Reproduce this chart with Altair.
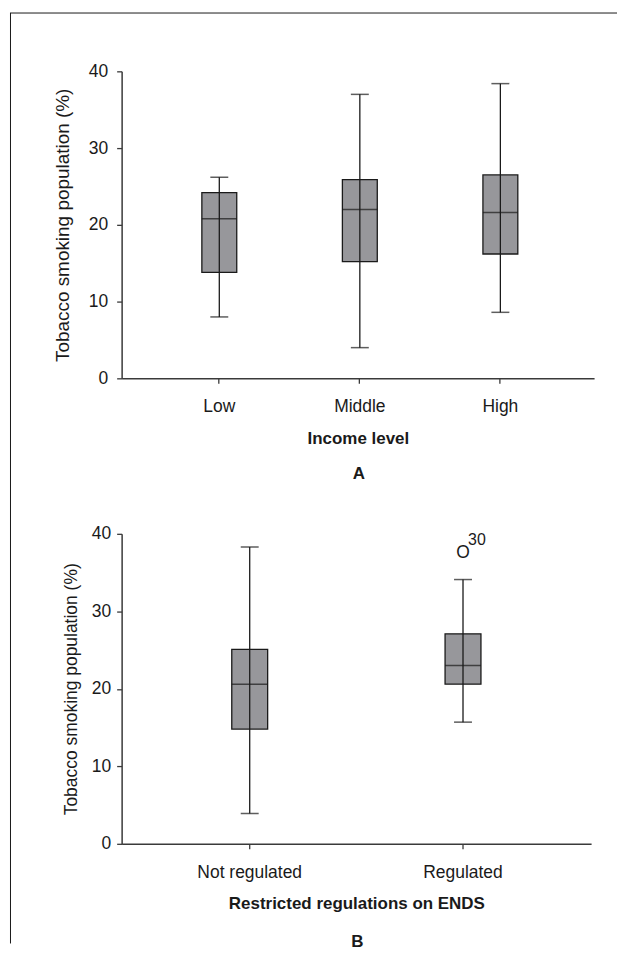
import altair as alt
import pandas as pd

# ---------------- data ----------------
cats_a = ["Low", "Middle", "High"]
lo_a = [8.0, 4.0, 8.6]
q1_a = [13.8, 15.2, 16.2]
med_a = [20.8, 22.0, 21.6]
q3_a = [24.2, 25.9, 26.5]
hi_a = [26.2, 37.0, 38.4]

cats_b = ["Not regulated", "Regulated"]
lo_b = [3.9, 15.7]
q1_b = [14.8, 20.6]
med_b = [20.6, 23.0]
q3_b = [25.1, 27.1]
hi_b = [38.3, 34.1]

out_cat = ["Regulated"]
out_val = [37.5]
out_lab = ["30"]

y_ticks = [0, 10, 20, 30, 40]

FONT = "Liberation Sans"
INK = "#1a1a1a"
AXC = "#3a3a3a"
GRAY = "#97979b"


def panel(cats, lo, q1, med, q3, hi, width, height, box_w, po, align,
          lab_fs, ylab_pad, ytitle_fs, ytitle_pad, xtitle, letter, letter_y,
          frame=None, out=None):
    df = pd.DataFrame({"cat": cats, "lo": lo, "q1": q1, "med": med, "q3": q3, "hi": hi})
    xs = alt.Scale(domain=cats, paddingInner=0, paddingOuter=po, align=align)
    xa = alt.Axis(labelAngle=0, labelFont=FONT, labelFontSize=lab_fs, labelColor=INK,
                  labelPadding=14.5, tickSize=5, tickColor=AXC, tickWidth=1.3,
                  domainColor=AXC, domainWidth=1.5, title=xtitle, titleFont=FONT,
                  titleFontSize=17, titleFontWeight="bold", titleColor=INK,
                  titlePadding=15, grid=False)
    ys = alt.Scale(domain=[0, 40])
    ya = alt.Axis(values=y_ticks, grid=False, labelFont=FONT, labelFontSize=lab_fs,
                  labelColor=INK, labelPadding=ylab_pad, tickSize=5, tickColor=AXC,
                  tickWidth=1.3, domainColor=AXC, domainWidth=1.5,
                  title="Tobacco smoking population (%)", titleFont=FONT,
                  titleFontSize=ytitle_fs, titleFontWeight="normal", titleColor=INK,
                  titlePadding=ytitle_pad)
    X = alt.X("cat:N", scale=xs, axis=xa, sort=cats)

    def Y(f):
        return alt.Y(f, scale=ys, axis=ya)

    base = alt.Chart(df)
    box = base.mark_bar(size=box_w, fill=GRAY, stroke=INK, strokeWidth=1.3).encode(
        x=X, y=Y("q1:Q"), y2="q3:Q")
    whisk = base.mark_rule(color=INK, strokeWidth=1.3).encode(x=X, y=Y("lo:Q"), y2="hi:Q")
    med_t = base.mark_tick(size=box_w, thickness=1.5, color=INK).encode(x=X, y=Y("med:Q"))
    cap_lo = base.mark_tick(size=18, thickness=1.5, color=INK).encode(x=X, y=Y("lo:Q"))
    cap_hi = base.mark_tick(size=18, thickness=1.5, color=INK).encode(x=X, y=Y("hi:Q"))

    one = alt.Chart(pd.DataFrame({"k": [0]}))
    layers = [box, whisk, med_t, cap_lo, cap_hi]
    if frame is not None:
        fx, fy1, fy2, fx2 = frame
        layers.append(one.mark_rule(color=INK, strokeWidth=1).encode(
            x=alt.value(fx - 0.5), x2=alt.value(fx2), y=alt.value(fy1)))
        layers.append(one.mark_rule(color=INK, strokeWidth=1).encode(
            x=alt.value(fx), y=alt.value(fy1), y2=alt.value(fy2)))
    layers.append(one.mark_text(text=letter, font=FONT, fontSize=17, fontWeight="bold",
                                color=INK, align="center", baseline="alphabetic").encode(
        x=alt.value(width / 2 + 1), y=alt.value(letter_y)))
    if out is not None:
        dfo = pd.DataFrame({"cat": out[0], "val": out[1], "lab": out[2]})
        ob = alt.Chart(dfo)
        layers.append(ob.mark_text(text="O", font=FONT, fontSize=17.5, color=INK,
                                   baseline="middle").encode(x=X, y=Y("val:Q")))
        layers.append(ob.mark_text(font=FONT, fontSize=16, color=INK, baseline="middle",
                                   dx=14, dy=-13).encode(x=X, y=Y("val:Q"), text="lab:N"))
    return alt.layer(*layers).properties(width=width, height=height)


pa = panel(cats_a, lo_a, q1_a, med_a, q3_a, hi_a, width=474, height=308, box_w=35,
           po=0.1809, align=0.539, lab_fs=17.5, ylab_pad=9, ytitle_fs=19, ytitle_pad=16,
           xtitle="Income level", letter="A", letter_y=409,
           frame=(-111.5, -58.5, 875, 497))
pb = panel(cats_b, lo_b, q1_b, med_b, q3_b, hi_b, width=471, height=311, box_w=36,
           po=0.1005, align=0.5, lab_fs=17.5, ylab_pad=6, ytitle_fs=17.5, ytitle_pad=11,
           xtitle="Restricted regulations on ENDS", letter="B", letter_y=415,
           out=(out_cat, out_val, out_lab))

chart = alt.vconcat(pa, pb, spacing=156, bounds="flush").properties(
    padding={"left": 1, "top": 3, "right": 0, "bottom": 0},
    background="white",
).configure_view(strokeWidth=0, stroke="transparent")

chart.save("out.html", embed_options={"renderer": "svg", "actions": False})
